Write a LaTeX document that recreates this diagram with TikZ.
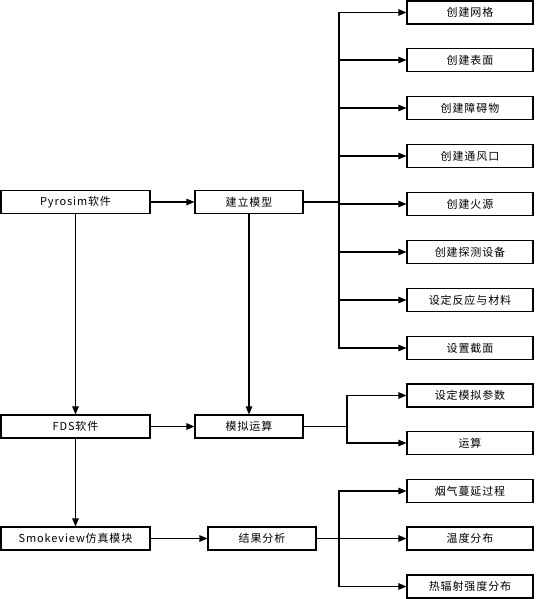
\documentclass[tikz,border=0pt]{standalone}
\usepackage{fontspec}
\setmainfont{Noto Sans CJK SC}[LetterSpace=8]
\usetikzlibrary{arrows.meta}
\begin{document}
\begin{tikzpicture}[x=1pt,y=-1pt,
  box/.style={draw=black,line width=1.1pt,rectangle,inner sep=0pt,minimum height=23pt,font=\fontsize{11}{12}\selectfont},
  lbox/.style={box,minimum width=149pt},
  mbox/.style={box,minimum width=108pt},
  rbox/.style={box,minimum width=126pt},
  arr/.style={draw=black,line width=1.1pt,-{Triangle[length=8pt,width=6.5pt]}},
  ln/.style={draw=black,line width=1.1pt}]
\useasboundingbox (0,0) rectangle (536,599);
% left column
\node[lbox] (pyro) at (75.5,202) {Pyrosim软件};
\node[lbox] (fds) at (75.5,426.5) {FDS软件};
\node[lbox] (smv) at (75.5,538.5) {Smokeview仿真模块};
% middle column
\node[mbox] (jlmx) at (249,202) {建立模型};
\node[mbox] (mnys) at (249,426.5) {模拟运算};
\node[mbox] (jgfx) at (262,538.5) {结果分析};
% right column
\node[rbox] (r1) at (470,12.5) {创建网格};
\node[rbox] (r2) at (470,60) {创建表面};
\node[rbox] (r3) at (470,108) {创建障碍物};
\node[rbox] (r4) at (470,156) {创建通风口};
\node[rbox] (r5) at (470,204) {创建火源};
\node[rbox] (r6) at (470,252) {创建探测设备};
\node[rbox] (r7) at (470,300) {设定反应与材料};
\node[rbox] (r8) at (470,348) {设置截面};
\node[rbox] (s1) at (470,395.5) {设定模拟参数};
\node[rbox] (s2) at (470,443) {运算};
\node[rbox] (t1) at (470,491) {烟气蔓延过程};
\node[rbox] (t2) at (470,538.5) {温度分布};
\node[rbox] (t3) at (470,586.5) {热辐射强度分布};
% trunks
\coordinate (tra) at (339,202);
\coordinate (trb) at (347,426.5);
\coordinate (trc) at (339,538.5);
% horizontal flow
\draw[arr] (pyro) -- (jlmx);
\draw[arr] (fds) -- (mnys);
\draw[arr] (smv) -- (jgfx);
% vertical flow
\draw[arr] (pyro) -- (fds);
\draw[arr] (fds) -- (smv);
\draw[arr] (jlmx) -- (mnys);
% branch 1
\draw[ln] (jlmx.east) -- (tra);
\foreach \n in {r1,r2,r3,r4,r5,r6,r7,r8} \draw[arr] (tra) |- (\n.west);
% branch 2
\draw[ln] (mnys.east) -- (trb);
\foreach \n in {s1,s2} \draw[arr] (trb) |- (\n.west);
% branch 3
\draw[arr] (jgfx.east) -- (t2.west);
\foreach \n in {t1,t3} \draw[arr] (trc) |- (\n.west);
\end{tikzpicture}
\end{document}
